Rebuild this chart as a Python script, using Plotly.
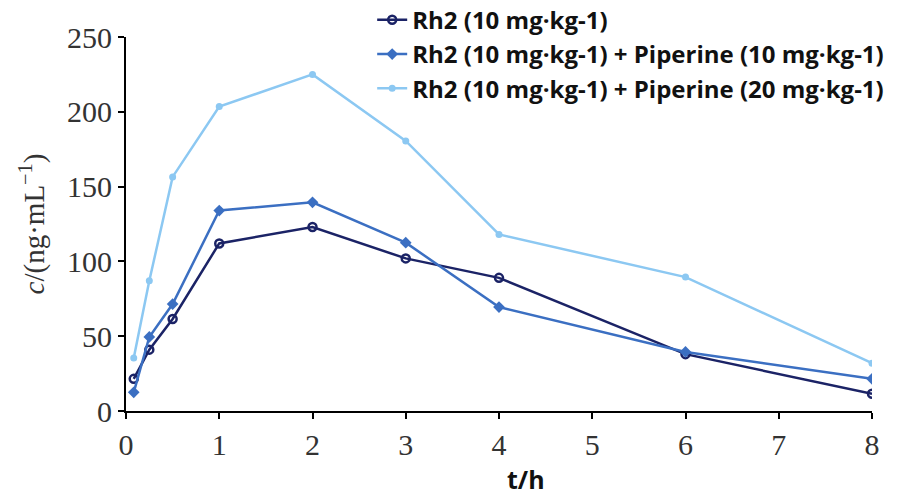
import plotly.graph_objects as go

t = [0.083, 0.25, 0.5, 1, 2, 3, 4, 6, 8]
rh2 = [21.5, 41, 61.5, 112, 123, 102, 89, 38, 11.5]
rh2_pip10 = [12.5, 49.5, 71.5, 134, 139.5, 112.5, 69.5, 39.5, 21.5]
rh2_pip20 = [35.5, 87, 156.5, 203.5, 225, 180.5, 118, 89.5, 32]
names = ["Rh2 (10 mg·kg-1)",
         "Rh2 (10 mg·kg-1) + Piperine (10 mg·kg-1)",
         "Rh2 (10 mg·kg-1) + Piperine (20 mg·kg-1)"]
y_ticks = [0, 50, 100, 150, 200, 250]
x_ticks = [0, 1, 2, 3, 4, 5, 6, 7, 8]

fig = go.Figure()
fig.add_trace(go.Scatter(x=t, y=rh2, name=names[0], mode="lines+markers", legendgroup="a",
                         line=dict(color="#1b2366", width=2.5),
                         marker=dict(symbol="circle-open", size=8, color="#1b2366",
                                     line=dict(width=2.5, color="#1b2366"))))
fig.add_trace(go.Scatter(x=t, y=rh2_pip10, name=names[1], mode="lines+markers", legendgroup="b",
                         line=dict(color="#3b6fc2", width=2.5),
                         marker=dict(symbol="diamond", size=9, color="#3b6fc2")))
fig.add_trace(go.Scatter(x=t, y=rh2_pip20, name=names[2], mode="lines+markers", legendgroup="c",
                         line=dict(color="#8cc8f2", width=2.5),
                         marker=dict(symbol="circle", size=7, color="#8cc8f2")))

serif = "Liberation Serif"
fig.update_layout(
    width=920, height=495,
    margin=dict(l=126, r=48, t=37, b=84, autoexpand=False),
    paper_bgcolor="white", plot_bgcolor="white",
    showlegend=True,
    legend=dict(x=0.33, y=1.105, xanchor="left", yanchor="top",
                font=dict(family="Open Sans", size=24, color="#111", weight="bold"),
                bgcolor="rgba(0,0,0,0)", tracegroupgap=0, itemwidth=30),
    xaxis=dict(range=[0, 8], tickvals=x_ticks, showline=True, linecolor="black",
               linewidth=2, ticks="outside", ticklen=6, tickwidth=2, tickcolor="black",
               showgrid=False, zeroline=False,
               tickfont=dict(family=serif, size=30, color="#333")),
    yaxis=dict(range=[0, 250], tickvals=y_ticks, showline=True, linecolor="black",
               linewidth=2, ticks="outside", ticklen=6, tickwidth=2, tickcolor="black",
               showgrid=False, zeroline=False,
               tickfont=dict(family=serif, size=30, color="#333"),
               title=dict(text="<i>c</i>/(ng·mL<sup>−1</sup>)",
                          font=dict(family=serif, size=29, color="#333"), standoff=14)),
)
fig.add_annotation(text="<b>t/h</b>", xref="paper", yref="paper", x=0.536, y=-0.182,
                   xanchor="center", yanchor="middle", showarrow=False,
                   font=dict(family="Open Sans", size=25, color="#111"))
fig.write_html("out.html")
